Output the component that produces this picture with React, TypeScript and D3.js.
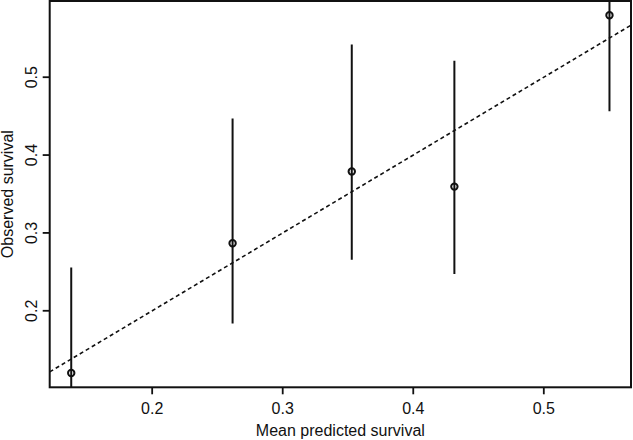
import React from "react";
import * as d3 from "d3";

const predicted = [0.138, 0.2616, 0.3529, 0.4315, 0.5503];
const observed = [0.1201, 0.2868, 0.379, 0.3595, 0.5795];
const ciLower = [0.05, 0.1838, 0.2654, 0.2474, 0.4564];
const ciUpper = [0.2556, 0.447, 0.542, 0.521, 0.7];
const xTicks = [0.2, 0.3, 0.4, 0.5];
const yTicks = [0.2, 0.3, 0.4, 0.5];
const xLabel = "Mean predicted survival";
const yLabel = "Observed survival";

const W = 633;
const H = 440;
const L = 49.7;
const R = 631;
const T = 1;
const B = 387.3;

function ext(vals: number[]) {
  const [a, b] = d3.extent(vals) as [number, number];
  const r = (b - a) * 0.04;
  return [a - r, b + r];
}

export default function App() {
  const x = d3.scaleLinear().domain(ext(predicted)).range([L, R]);
  const y = d3.scaleLinear().domain(ext(observed)).range([B, T]);
  const font = "'Liberation Sans', Arial, Helvetica, sans-serif";
  const [dx0, dx1] = x.domain();
  const line = d3.line<number>().x((v) => x(v)).y((v) => y(v));
  return (
    <svg width={W} height={H} style={{ position: "absolute", left: 0, top: 0, background: "#fff" }}>
      <defs>
        <clipPath id="plot">
          <rect x={L} y={T} width={R - L} height={B - T} />
        </clipPath>
      </defs>
      <g clipPath="url(#plot)">
        <path d={line([dx0, dx1]) || ""} stroke="#111" strokeWidth={1.6} strokeDasharray="4,3" fill="none" />
        {predicted.map((p, i) => (
          <line key={"ci" + i} x1={x(p)} x2={x(p)} y1={y(ciLower[i])} y2={y(ciUpper[i])} stroke="#111" strokeWidth={2} />
        ))}
        {predicted.map((p, i) => (
          <circle key={"pt" + i} cx={x(p)} cy={y(observed[i])} r={3.2} fill="none" stroke="#111" strokeWidth={2} />
        ))}
      </g>
      <rect x={L} y={T} width={R - L} height={B - T} fill="none" stroke="#111" strokeWidth={2} />
      {xTicks.map((t) => (
        <g key={"xt" + t}>
          <line x1={x(t)} x2={x(t)} y1={B} y2={B + 7} stroke="#111" strokeWidth={1.8} />
          <text x={x(t)} y={414} textAnchor="middle" fontFamily={font} fontSize={16} fill="#111">
            {t.toFixed(1)}
          </text>
        </g>
      ))}
      {yTicks.map((t) => (
        <g key={"yt" + t}>
          <line x1={L} x2={L - 7} y1={y(t)} y2={y(t)} stroke="#111" strokeWidth={1.8} />
          <text
            transform={`translate(37,${y(t)}) rotate(-90)`}
            textAnchor="middle"
            fontFamily={font}
            fontSize={16}
            fill="#111"
          >
            {t.toFixed(1)}
          </text>
        </g>
      ))}
      <text x={(L + R) / 2} y={436} textAnchor="middle" fontFamily={font} fontSize={16} fill="#111">
        {xLabel}
      </text>
      <text
        transform={`translate(13,${(T + B) / 2}) rotate(-90)`}
        textAnchor="middle"
        fontFamily={font}
        fontSize={16}
        fill="#111"
      >
        {yLabel}
      </text>
    </svg>
  );
}
